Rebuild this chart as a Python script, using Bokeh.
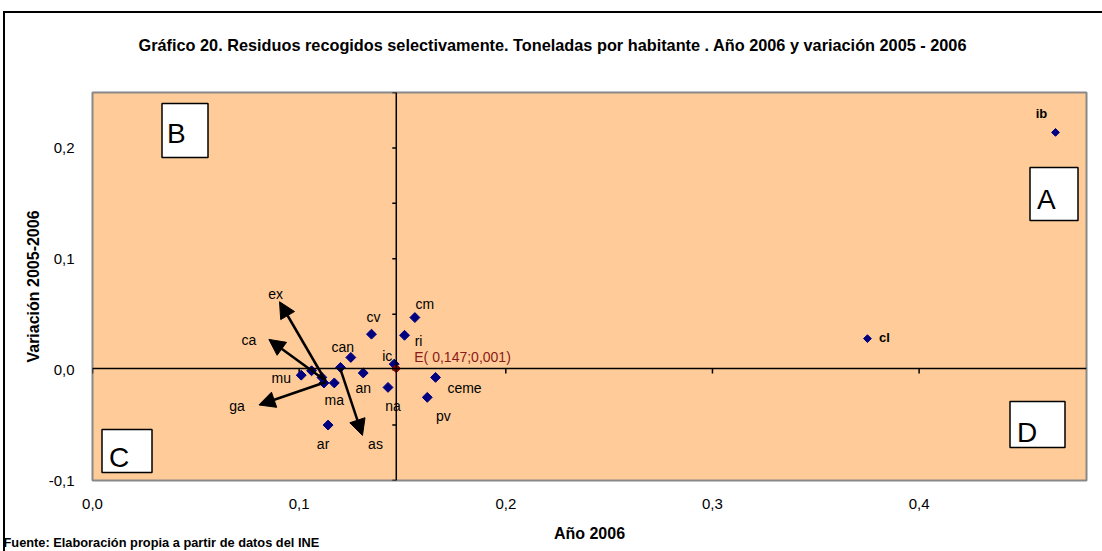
import numpy as np
from bokeh.plotting import figure
from bokeh.models import (Range1d, FixedTicker, CustomJSTickFormatter, Label, BoxAnnotation,
                          Arrow, NormalHead, Span, ColumnDataSource, Title)
from bokeh.core.properties import value
from bokeh.embed import file_html
from bokeh.resources import INLINE

# ---------------- data ----------------
regions = ["ib", "cl", "cm", "ri", "cv", "can", "ic", "ceme", "pv", "an", "na",
           "mu", "ex", "ca", "ga", "ma", "as", "ar"]
anio_2006 = [0.466, 0.375, 0.156, 0.151, 0.135, 0.125, 0.146, 0.166, 0.162, 0.131, 0.143,
             0.101, 0.106, 0.111, 0.112, 0.117, 0.120, 0.114]
variacion = [0.214, 0.028, 0.047, 0.031, 0.032, 0.011, 0.005, -0.007, -0.025, -0.003, -0.016,
             -0.005, -0.001, -0.007, -0.012, -0.012, 0.002, -0.050]
media_x = 0.147
media_y = 0.001
media_label = "E( 0,147;0,001)"
x_ticks = [0.0, 0.1, 0.2, 0.3, 0.4]
y_ticks = [-0.1, 0.0, 0.1, 0.2]
cross_y_ticks = [-0.1, -0.05, 0.0, 0.05, 0.1, 0.15, 0.2, 0.25]
title_text = "Gráfico 20. Residuos recogidos selectivamente. Toneladas por habitante . Año 2006 y variación 2005 - 2006"
x_title = "Año 2006"
y_title = "Variación 2005-2006"
source_text = "Fuente: Elaboración propia a partir de datos del INE"
quadrants = ["A", "B", "C", "D"]

# ---------------- layout helpers ----------------
X0, X1 = 0.0, 0.481
Y0, Y1 = -0.1, 0.25
FL, FT, FW, FH = 92, 92, 994, 388
PX = FW / (X1 - X0)   # pixels per x unit
PY = FH / (Y1 - Y0)   # pixels per y unit
FONT = "Liberation Sans"
VFONT = value(FONT)

label_off = {"ib": (-14, -19), "cl": (17, -1), "cm": (10, -14), "ri": (14, 6), "cv": (2, -17),
             "can": (-8, -10), "ic": (-7, -8), "ceme": (29, 11), "pv": (16, 19), "an": (0, 15),
             "na": (5, 19), "mu": (-20, 3), "ma": (0, 17), "ar": (-5, 19),
             "ex": (-36, -77), "ca": (-73, -37), "ga": (-87, 23), "as": (35, 77)}
arrow_off = {"ex": ((14, 10), (-32, -69)), "ca": ((2, 2), (-53, -38)),
             "ga": ((2, -1), (-65, 22)), "as": ((0, 2), (22, 68))}
bold_names = {"ib", "cl"}

W, H = 1102, 551
p = figure(width=W, height=H, output_backend="svg", toolbar_location=None,
           x_range=Range1d(X0, X1), y_range=Range1d(Y0, Y1),
           min_border_left=FL, min_border_top=FT, min_border_right=W - FL - FW,
           min_border_bottom=H - FT - FH)
p.background_fill_color = "#FFCC99"
p.border_fill_color = "white"
p.border_fill_alpha = 0
p.outline_line_color = "#888888"
p.outline_line_width = 2
p.xgrid.visible = False
p.ygrid.visible = False
# outer chart frame (top and left edges visible in the picture)
p.styles = {"box-shadow": "inset 3px 11px 0 0 white, inset 5px 13px 0 0 black"}

fmt = CustomJSTickFormatter(code="return tick.toFixed(1).replace('.', ',');")
for ax in (p.xaxis[0], p.yaxis[0]):
    ax.formatter = fmt
    ax.axis_line_color = None
    ax.major_tick_line_color = None
    ax.minor_tick_line_color = None
    ax.major_label_text_font = FONT
    ax.major_label_text_font_size = "15px"
    ax.major_label_text_color = "black"
    ax.axis_label_text_font = FONT
    ax.axis_label_text_font_style = "bold"
    ax.axis_label_text_color = "black"
    ax.axis_label_text_font_size = "16px"
p.xaxis.ticker = FixedTicker(ticks=x_ticks)
p.yaxis.ticker = FixedTicker(ticks=y_ticks)
p.xaxis.major_label_standoff = 12
p.yaxis.major_label_standoff = 12
p.xaxis.axis_label = x_title
p.yaxis.axis_label = y_title
p.xaxis.axis_label_standoff = 13
p.yaxis.axis_label_standoff = 4

# title (spacer panel next to the frame, then the title itself)
p.add_layout(Title(text=" ", text_font_size="16px", standoff=14), "above")
p.add_layout(Title(text=title_text, text_font=FONT, text_font_size="16.3px",
                   text_font_style="bold", align="left", offset=46, standoff=10,
                   vertical_align="middle", text_color="black"), "above")
# source note
p.add_layout(Title(text=source_text, text_font=FONT, text_font_size="12.8px",
                   text_font_style="bold", align="left", offset=3 - FL, standoff=-19,
                   vertical_align="top", text_color="black"), "below")

# crossing axes
p.add_layout(Span(location=media_x, dimension="height", line_color="black", line_width=1.5))
p.add_layout(Span(location=media_y, dimension="width", line_color="black", line_width=1.5))
p.segment(x0=[media_x - 4 / PX] * len(cross_y_ticks), x1=[media_x] * len(cross_y_ticks),
          y0=cross_y_ticks, y1=cross_y_ticks, line_color="black", line_width=1.5)
p.segment(x0=x_ticks, x1=x_ticks, y0=[media_y] * len(x_ticks),
          y1=[media_y - 5 / PY] * len(x_ticks), line_color="black", line_width=1.5)

def dx(px):
    return X0 + (px - FL - 0.5) / PX
def dy(py):
    return Y1 - (py - FT) / PY

quad_boxes = {"A": (1030, 1078, 167, 220), "B": (162, 208, 103, 157),
              "C": (102, 152, 429, 472), "D": (1010, 1065, 401, 447)}
quad_text = {"A": (1037, 199), "B": (167, 133), "C": (109, 457), "D": (1017, 432)}
for q in quadrants:
    l, r, t, b = quad_boxes[q]
    p.add_layout(BoxAnnotation(left=dx(l), right=dx(r), top=dy(t), bottom=dy(b),
                               fill_color="white", fill_alpha=1, line_color="black",
                               line_alpha=1, line_width=1.5, level="annotation"))
    tx, ty = quad_text[q]
    p.add_layout(Label(x=dx(tx), y=dy(ty), text=q, text_font=FONT, text_font_size="28px",
                       text_color="black", text_align="left", text_baseline="alphabetic"))

for name, (tail, tip) in arrow_off.items():
    i = regions.index(name)
    xs, ys = anio_2006[i], variacion[i]
    p.add_layout(Arrow(x_start=xs + tail[0] / PX, y_start=ys - tail[1] / PY,
                       x_end=xs + tip[0] / PX, y_end=ys - tip[1] / PY,
                       line_color="black", line_width=2.5,
                       end=NormalHead(size=16, fill_color="black", line_color="black")))

norm = [i for i, r in enumerate(regions) if r not in bold_names]
big = [i for i, r in enumerate(regions) if r in bold_names]
p.scatter([anio_2006[i] for i in norm], [variacion[i] for i in norm], marker="square",
          angle=np.pi / 4, size=7, color="#000080")
p.scatter([anio_2006[i] for i in big], [variacion[i] for i in big], marker="square",
          angle=np.pi / 4, size=5.5, color="#000080")
p.scatter([media_x], [media_y], marker="square", angle=np.pi / 4, size=6, color="#990000")

lab = ColumnDataSource(dict(
    x=[anio_2006[i] for i in norm], y=[variacion[i] for i in norm],
    t=[regions[i] for i in norm],
    xo=[label_off[regions[i]][0] for i in norm], yo=[label_off[regions[i]][1] for i in norm]))
p.text("x", "y", text="t", x_offset="xo", y_offset="yo", source=lab, text_font=VFONT,
       text_font_size="14px", text_align="center", text_baseline="middle", text_color="black")
labb = ColumnDataSource(dict(
    x=[anio_2006[i] for i in big], y=[variacion[i] for i in big],
    t=[regions[i] for i in big],
    xo=[label_off[regions[i]][0] for i in big], yo=[label_off[regions[i]][1] for i in big]))
p.text("x", "y", text="t", x_offset="xo", y_offset="yo", source=labb, text_font=VFONT,
       text_font_size="13px", text_font_style="bold", text_align="center",
       text_baseline="middle", text_color="black")
p.text([media_x], [media_y], text=[media_label], x_offset=18, y_offset=-12, text_font=VFONT,
       text_font_size="14px", text_align="left", text_baseline="middle", text_color="#8B1A1A")

open("out.html", "w").write(file_html(p, INLINE))
